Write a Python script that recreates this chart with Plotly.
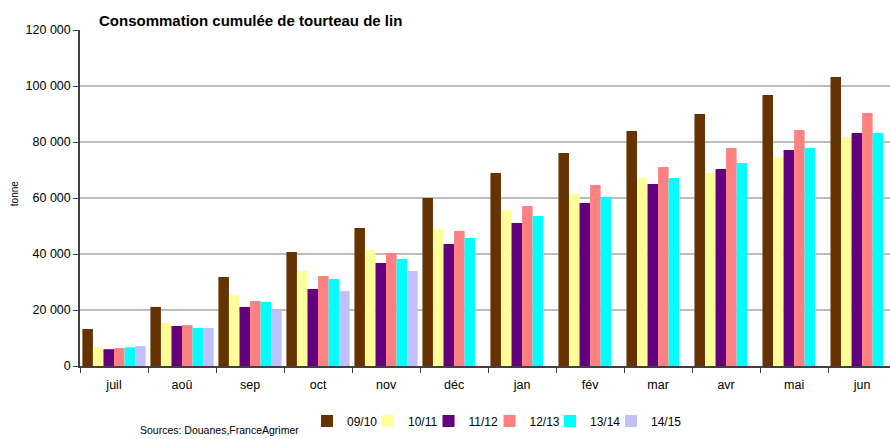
import plotly.graph_objects as go

# Months of the marketing year (July to June)
months = ["juil", "aoû", "sep", "oct", "nov", "déc", "jan", "fév", "mar", "avr", "mai", "jun"]

# Cumulative consumption of linseed cake, in tonnes, per campaign
s0910 = [13200, 21100, 31800, 40700, 49300, 60000, 68900, 76100, 83900, 90000, 96800, 103200]
s1011 = [6800, 15400, 25400, 33900, 41400, 48900, 55700, 61400, 67100, 68900, 74600, 81800]
s1112 = [6000, 14300, 21100, 27500, 36800, 43600, 51100, 58200, 65000, 70400, 77100, 83200]
s1213 = [6400, 14600, 23200, 32100, 40400, 48200, 57100, 64600, 71100, 77900, 84300, 90400]
s1314 = [6700, 13600, 22900, 31100, 38200, 45700, 53600, 60400, 67100, 72500, 77900, 83200]
s1415 = [7100, 13600, 20000, 26800, 33900, None, None, None, None, None, None, None]

campaigns = ["09/10", "10/11", "11/12", "12/13", "13/14", "14/15"]
series = [s0910, s1011, s1112, s1213, s1314, s1415]
colors = ["#663300", "#FFFF99", "#630080", "#FF8080", "#00FFFF", "#C0C0FF"]

font = "Liberation Sans, Arial, sans-serif"

# Plot area in pixels, used to place the legend entries in a row under the axis
PLOT_L, PLOT_W = 80, 810
legend_px = [307, 368, 428.5, 489.5, 550, 611]

fig = go.Figure()
layout_legends = {}
for i, (name, vals, col) in enumerate(zip(campaigns, series, colors)):
    key = "legend" if i == 0 else f"legend{i + 1}"
    fig.add_trace(go.Bar(x=months, y=vals, name=name, legend=key,
                         marker=dict(color=col, line=dict(width=0))))
    layout_legends[key] = dict(
        orientation="h", x=(legend_px[i] - PLOT_L) / PLOT_W, y=-0.164,
        xanchor="left", yanchor="middle", font=dict(size=12, family=font),
        itemclick=False, bgcolor="rgba(0,0,0,0)",
    )

fig.update_layout(
    width=890, height=439,
    margin=dict(l=80, r=0, t=30, b=73),
    paper_bgcolor="white", plot_bgcolor="white",
    barmode="group", bargap=0.07, bargroupgap=0,
    separators=", ",
    font=dict(family=font, size=12.5, color="black"),
    showlegend=True,
    xaxis=dict(range=[-0.5, 11.41], showline=True, linecolor="#404040", linewidth=1.5,
               ticks="outside", tickson="boundaries", ticklen=5, tickcolor="#404040",
               ticklabelstandoff=6,
               showgrid=False, zeroline=False, tickfont=dict(size=12.5)),
    yaxis=dict(range=[0, 120000], dtick=20000, tickformat=",d", showline=True,
               linecolor="#404040", linewidth=1.5, ticks="outside", ticklen=5,
               tickcolor="#404040", showgrid=True, gridcolor="#BDBDBD", gridwidth=2,
               zeroline=False, tickfont=dict(size=12.5)),
    annotations=[
        dict(text="<b>Consommation cumulée de tourteau de lin</b>", xref="paper", yref="paper",
             x=0.021, y=1.027, xanchor="left", yanchor="middle", showarrow=False,
             font=dict(size=15, family=font)),
        dict(text="tonne", xref="paper", yref="paper", x=-0.080, y=0.512, textangle=-90,
             xanchor="center", yanchor="middle", showarrow=False, font=dict(size=10, family=font)),
        dict(text="Sources: Douanes,FranceAgrimer", xref="paper", yref="paper",
             x=0.071, y=-0.214, xanchor="left", yanchor="bottom", showarrow=False,
             font=dict(size=10.5, family=font)),
    ],
    **layout_legends,
)

fig.write_html("out.html")
